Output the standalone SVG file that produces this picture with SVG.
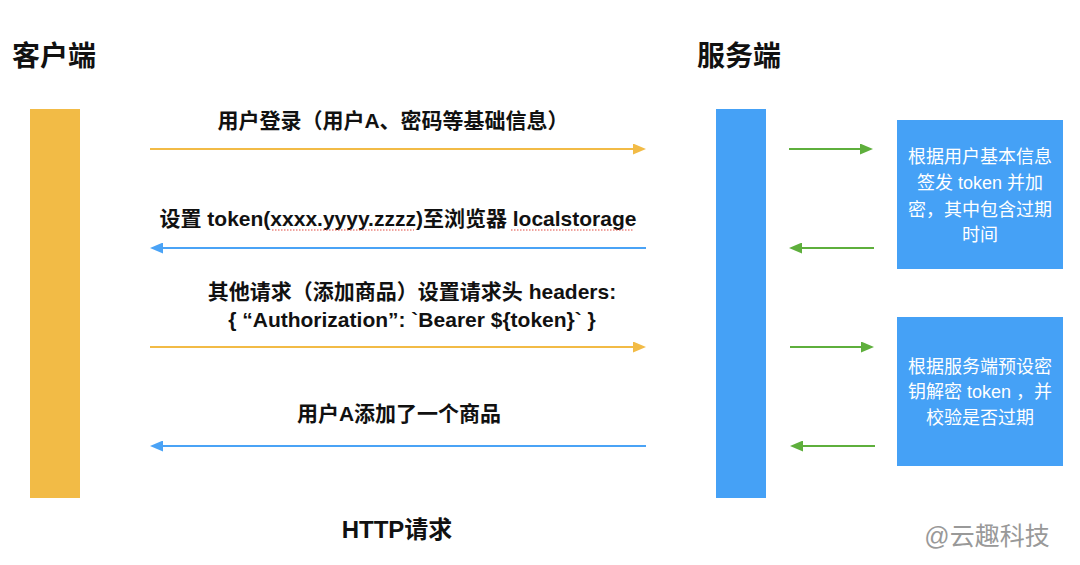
<svg xmlns="http://www.w3.org/2000/svg" width="1080" height="565" viewBox="0 0 1080 565">
<defs>
<style>
.t{font-family:"Liberation Sans","Noto Sans CJK SC",sans-serif;fill:#111;}
.title{font-size:28px;font-weight:bold;}
.lbl{font-size:21px;font-weight:bold;text-anchor:middle;}
.box{font-size:18px;fill:#fff;text-anchor:middle;}
.yl{stroke:#F2BB46;stroke-width:2;fill:none;}
.bl{stroke:#4AA3F6;stroke-width:2;fill:none;}
.gl{stroke:#5EAF3C;stroke-width:2;fill:none;}
.spell{stroke:#E0483E;stroke-width:1;stroke-dasharray:1.5 1.5;fill:none;}
</style>
<marker id="ay" viewBox="0 0 13 11" refX="4" refY="5.5" markerWidth="13" markerHeight="11" markerUnits="userSpaceOnUse" orient="auto"><path d="M0,0 L13,5.5 L0,11 z" fill="#F2BB46"/></marker>
<marker id="ab" viewBox="0 0 13 11" refX="4" refY="5.5" markerWidth="13" markerHeight="11" markerUnits="userSpaceOnUse" orient="auto"><path d="M0,0 L13,5.5 L0,11 z" fill="#4AA3F6"/></marker>
<marker id="ag" viewBox="0 0 13 11" refX="4" refY="5.5" markerWidth="13" markerHeight="11" markerUnits="userSpaceOnUse" orient="auto"><path d="M0,0 L13,5.5 L0,11 z" fill="#5EAF3C"/></marker>
</defs>
<rect width="1080" height="565" fill="#fff"/>

<g id="client">
<text class="t title" x="12" y="66">客户端</text>
<rect x="30" y="109" width="50" height="389" fill="#F2BB46"/>
</g>

<g id="server">
<text class="t title" x="697" y="66">服务端</text>
<rect x="716" y="109" width="50" height="389" fill="#45A1F6"/>
</g>

<g id="sign-box">
<rect x="897" y="120" width="166" height="149" fill="#45A1F6"/>
<text class="t box" x="980" y="163">根据用户基本信息</text>
<text class="t box" x="980" y="189">签发 token 并加</text>
<text class="t box" x="980" y="216">密，其中包含过期</text>
<text class="t box" x="980" y="241">时间</text>
</g>

<g id="verify-box">
<rect x="897" y="317" width="166" height="149" fill="#45A1F6"/>
<text class="t box" x="980" y="373">根据服务端预设密</text>
<text class="t box" x="980" y="398">钥解密 token ，并</text>
<text class="t box" x="980" y="424">校验是否过期</text>
</g>

<g id="labels">
<text class="t lbl" x="393" y="128">用户登录（用户A、密码等基础信息）</text>
<text class="t lbl" x="398" y="226">设置 token(xxxx.yyyy.zzzz)至浏览器 localstorage</text>
<line class="spell" x1="272" y1="230" x2="414" y2="230"/>
<line class="spell" x1="511" y1="230" x2="633" y2="230"/>
<text class="t lbl" x="412" y="299">其他请求（添加商品）设置请求头 headers:</text>
<text class="t lbl" x="412" y="327">{ “Authorization”: `Bearer ${token}` }</text>
<text class="t lbl" x="399" y="421">用户A添加了一个商品</text>
<text class="t lbl" x="397" y="538" style="font-size:24px">HTTP请求</text>
<text class="t" x="987" y="545" style="font-size:25px;fill:#999;text-anchor:middle">@云趣科技</text>
</g>

<g id="connectors">
<line class="yl" x1="150" y1="149" x2="637" y2="149" marker-end="url(#ay)"/>
<line class="bl" x1="646" y1="248" x2="159" y2="248" marker-end="url(#ab)"/>
<line class="yl" x1="150" y1="347" x2="637" y2="347" marker-end="url(#ay)"/>
<line class="bl" x1="646" y1="446" x2="159" y2="446" marker-end="url(#ab)"/>
<line class="gl" x1="789" y1="149" x2="864" y2="149" marker-end="url(#ag)"/>
<line class="gl" x1="874" y1="248" x2="798" y2="248" marker-end="url(#ag)"/>
<line class="gl" x1="790" y1="347" x2="865" y2="347" marker-end="url(#ag)"/>
<line class="gl" x1="875" y1="446" x2="799" y2="446" marker-end="url(#ag)"/>
</g>
</svg>
